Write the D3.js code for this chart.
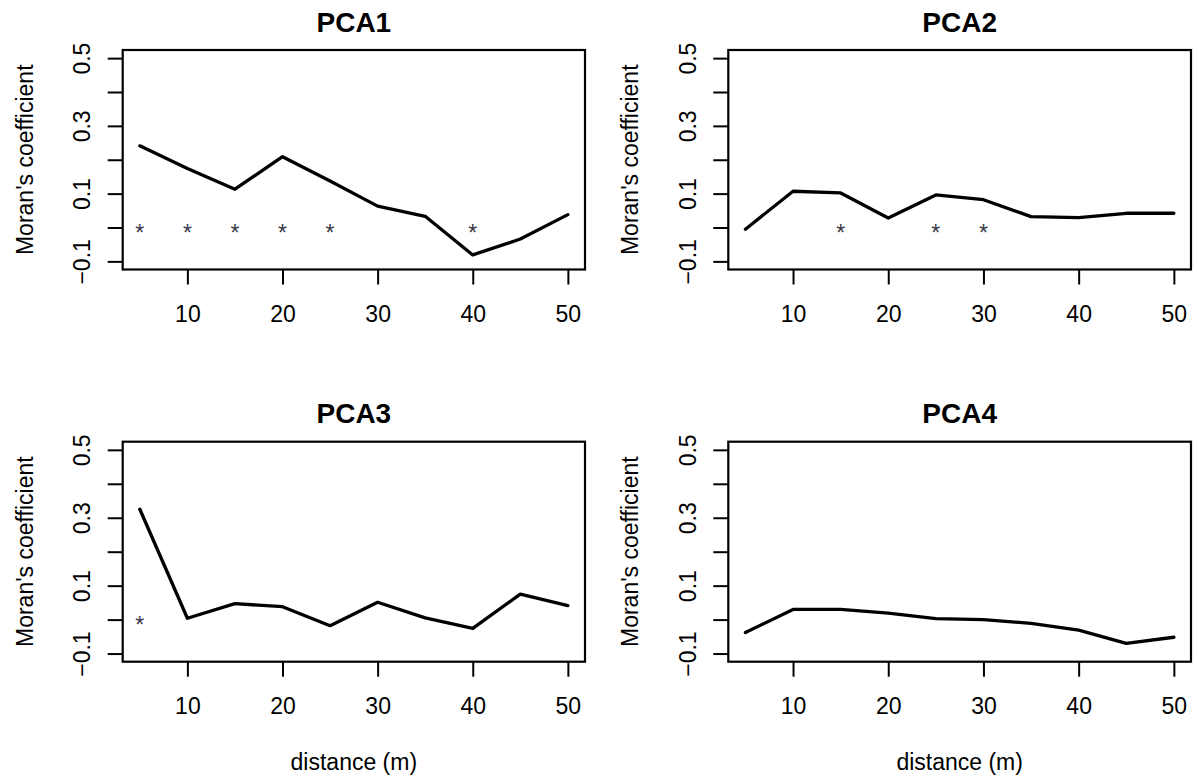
<!DOCTYPE html>
<html>
<head>
<meta charset="utf-8">
<script src="https://cdn.jsdelivr.net/npm/d3@7"></script>
<style>
  html, body { margin: 0; padding: 0; background: #fff; }
  svg { display: block; font-family: "Liberation Sans", Arial, Helvetica, sans-serif; }
</style>
</head>
<body>
<svg id="chart" width="1199" height="783"></svg>
<script>
// ---- data ----
const distances = [5, 10, 15, 20, 25, 30, 35, 40, 45, 50];
const pca1 = [0.241, 0.174, 0.113, 0.209, 0.137, 0.063, 0.033, -0.081, -0.034, 0.038];
const pca2 = [-0.005, 0.107, 0.102, 0.028, 0.096, 0.082, 0.032, 0.029, 0.042, 0.042];
const pca3 = [0.325, 0.004, 0.047, 0.038, -0.018, 0.051, 0.005, -0.026, 0.075, 0.041];
const pca4 = [-0.038, 0.030, 0.030, 0.019, 0.003, 0.000, -0.011, -0.031, -0.070, -0.052];
const stars1 = [5, 10, 15, 20, 25, 40];
const stars2 = [15, 25, 30];
const stars3 = [5];
const stars4 = [];
const titles = ["PCA1", "PCA2", "PCA3", "PCA4"];
const xTicks = [10, 20, 30, 40, 50];
const yTicks = [-0.1, 0, 0.1, 0.2, 0.3, 0.4, 0.5];
const yLabelled = [-0.1, 0.1, 0.3, 0.5];
const xLabel = "distance (m)";
const yLabel = "Moran's coefficient";

const series = [pca1, pca2, pca3, pca4];
const starSets = [stars1, stars2, stars3, stars4];

// ---- layout ----
const colLeft = [122.7, 728.3];
const colRight = [585.0, 1191.0];
const rowTop = [50.0, 441.7];
const rowBottom = [269.5, 661.7];
const FS = 23;
const TITLE_FS = 28;

const svg = d3.select("#chart");
svg.append("rect").attr("width", 1199).attr("height", 783).attr("fill", "#fff");

const xDom = [5 - 0.04 * 45, 50 + 0.04 * 45];
const yDom = [-0.1 - 0.04 * 0.6, 0.5 + 0.04 * 0.6];

series.forEach((vals, i) => {
  const col = i % 2, row = Math.floor(i / 2);
  const L = colLeft[col], R = colRight[col], T = rowTop[row], B = rowBottom[row];
  const x = d3.scaleLinear().domain(xDom).range([L, R]);
  const y = d3.scaleLinear().domain(yDom).range([B, T]);
  const g = svg.append("g");

  // x axis
  const xa = g.append("g").attr("transform", `translate(0,${B})`)
    .call(d3.axisBottom(x).tickValues(xTicks).tickSize(15).tickSizeOuter(0).tickFormat(d3.format("d")));
  xa.select(".domain").remove();
  xa.selectAll(".tick line").attr("stroke", "#000").attr("stroke-width", 2);
  xa.selectAll(".tick text").attr("y", 52.5).attr("dy", 0)
    .attr("font-size", FS).attr("fill", "#000")
    .style("font-family", '"Liberation Sans", Arial, sans-serif');

  // y axis
  const ya = g.append("g").attr("transform", `translate(${L},0)`)
    .call(d3.axisLeft(y).tickValues(yTicks).tickSize(15).tickSizeOuter(0)
      .tickFormat(d => yLabelled.some(v => Math.abs(v - d) < 1e-9) ? d3.format(".1f")(d).replace("-", "\u2212") : ""));
  ya.select(".domain").remove();
  ya.selectAll(".tick line").attr("stroke", "#000").attr("stroke-width", 2);
  ya.selectAll(".tick text")
    .attr("x", null).attr("dy", 0)
    .attr("transform", "translate(-32.7,0) rotate(-90)")
    .attr("text-anchor", "middle")
    .attr("font-size", FS).attr("fill", "#000")
    .style("font-family", '"Liberation Sans", Arial, sans-serif');

  // box
  g.append("rect").attr("x", L).attr("y", T).attr("width", R - L).attr("height", B - T)
    .attr("fill", "none").attr("stroke", "#000").attr("stroke-width", 2.2);

  // line
  const line = d3.line().x((d, k) => x(distances[k])).y(d => y(d));
  g.append("path").datum(vals).attr("d", line)
    .attr("fill", "none").attr("stroke", "#000").attr("stroke-width", 3.3)
    .attr("stroke-linejoin", "round").attr("stroke-linecap", "round");

  // significance stars
  g.selectAll(".star").data(starSets[i]).enter().append("text")
    .attr("x", d => x(d)).attr("y", y(0) + 0.575 * FS)
    .attr("text-anchor", "middle").attr("font-size", FS).attr("fill", "#3a3a48")
    .text("*");

  // title
  g.append("text").attr("x", (L + R) / 2).attr("y", T - 18.4)
    .attr("text-anchor", "middle").attr("font-size", TITLE_FS).attr("font-weight", "bold")
    .attr("fill", "#000").text(titles[i]);

  // y label
  g.append("text")
    .attr("transform", `translate(${L - 90},${(T + B) / 2}) rotate(-90)`)
    .attr("text-anchor", "middle").attr("font-size", FS).attr("fill", "#000")
    .text(yLabel);

  // x label (bottom row only)
  if (row === 1) {
    g.append("text").attr("x", (L + R) / 2).attr("y", 770)
      .attr("text-anchor", "middle").attr("font-size", FS).attr("fill", "#000")
      .text(xLabel);
  }
});
</script>
</body>
</html>
